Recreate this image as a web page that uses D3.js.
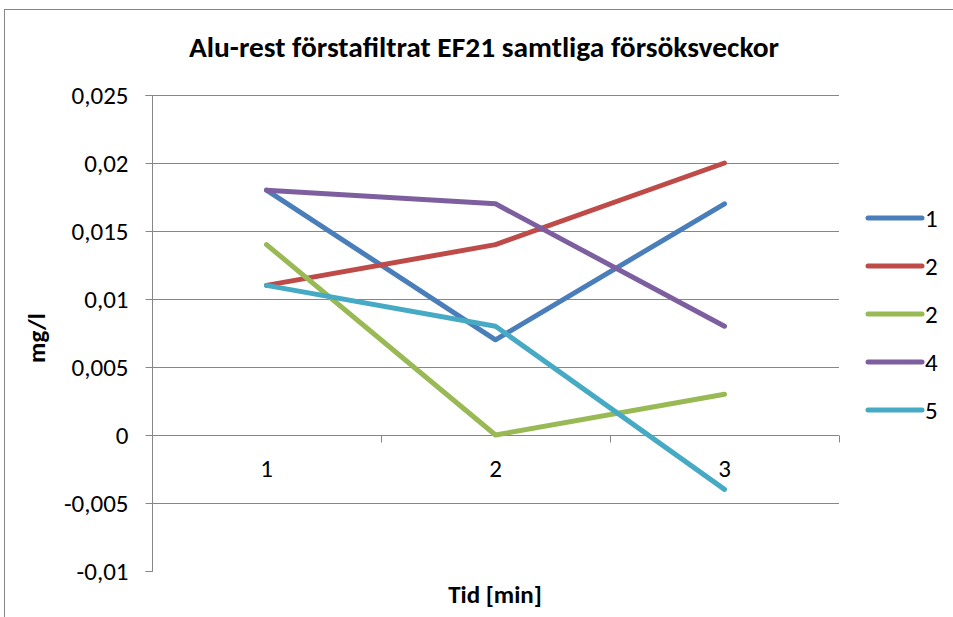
<!DOCTYPE html>
<html><head><meta charset="utf-8">
<script src="https://cdn.jsdelivr.net/npm/d3@7"></script>
<style>body{margin:0;background:#fff}svg{display:block}</style>
</head><body>
<script>
const categories = ["1", "2", "3"];
const seriesNames = ["1", "2", "2", "4", "5"];
const series1 = [0.018, 0.007, 0.017];
const series2 = [0.011, 0.014, 0.020];
const series3 = [0.014, 0.000, 0.003];
const series4 = [0.018, 0.017, 0.008];
const series5 = [0.011, 0.008, -0.004];
const yTicks = [-0.01, -0.005, 0, 0.005, 0.01, 0.015, 0.02, 0.025];
const colors = ["#4A7EBB", "#BE4B48", "#98B954", "#7D5FA0", "#46AAC5"];
const titleText = "Alu-rest förstafiltrat EF21 samtliga försöksveckor";
const xTitle = "Tid [min]";
const yTitle = "mg/l";

(function () {
const allSeries = [series1, series2, series3, series4, series5];
const W = 953, H = 617;
const svg = d3.select("body").append("svg").attr("width", W).attr("height", H);
const font = "Carlito, Calibri, Lato, 'Open Sans', sans-serif";
const fs = 25;

svg.append("rect").attr("x", 4.5).attr("y", 9.5).attr("width", 960).attr("height", 620)
  .attr("fill", "#fff").attr("stroke", "#868686").attr("stroke-width", 1);

const pL = 152, pR = 839, pT = 95, pB = 571;
const x = d3.scaleBand().domain(categories).range([pL, pR]).padding(0);
const y = d3.scaleLinear().domain([-0.01, 0.025]).range([pB, pT]);

// gridlines
svg.append("g").selectAll("line").data(yTicks.filter(d => d !== -0.01 && d !== 0)).join("line")
  .attr("x1", pL).attr("x2", pR)
  .attr("y1", d => Math.round(y(d)) + 0.5).attr("y2", d => Math.round(y(d)) + 0.5)
  .attr("stroke", "#868686").attr("stroke-width", 1);

// y axis
const yAxis = d3.axisLeft(y).tickValues(yTicks).tickSize(7).tickPadding(17)
  .tickFormat(d => String(+d.toFixed(3)).replace(".", ","));
const gy = svg.append("g").attr("transform", `translate(${pL + 0.5},0.5)`).call(yAxis);
gy.select(".domain").attr("stroke", "#868686").attr("d", `M-7,${Math.round(y(-0.01))}H0V${Math.round(y(0.025))}H-7`);
gy.selectAll(".tick line").attr("stroke", "#868686");
gy.selectAll(".tick text").attr("font-family", font).attr("font-size", fs).attr("fill", "#000")
  .attr("dy", "0.33em");
gy.selectAll(".tick").attr("transform", d => `translate(0,${Math.round(y(d))})`);

// x axis at zero
const y0 = Math.round(y(0)) + 0.5;
const gx = svg.append("g");
gx.append("line").attr("x1", pL).attr("x2", pR).attr("y1", y0).attr("y2", y0)
  .attr("stroke", "#868686");
const bounds = categories.map(c => x(c)).concat([pR]);
gx.selectAll("line.t").data(bounds).join("line").attr("class", "t")
  .attr("x1", d => Math.round(d) + 0.5).attr("x2", d => Math.round(d) + 0.5)
  .attr("y1", y0).attr("y2", y0 + 7).attr("stroke", "#868686");
gx.selectAll("text").data(categories).join("text")
  .attr("x", d => x(d) + x.bandwidth() / 2).attr("y", 477)
  .attr("text-anchor", "middle").attr("font-family", font).attr("font-size", fs)
  .text(d => d);

// lines
const line = d3.line().x((d, i) => x(categories[i]) + x.bandwidth() / 2).y(d => y(d));
svg.append("g").selectAll("path").data(allSeries).join("path")
  .attr("d", line).attr("fill", "none")
  .attr("stroke", (d, i) => colors[i]).attr("stroke-width", 5)
  .attr("stroke-linejoin", "round").attr("stroke-linecap", "round");

// legend
const lg = svg.append("g");
seriesNames.forEach((n, i) => {
  const ly = 218 + i * 48;
  lg.append("line").attr("x1", 868).attr("x2", 922).attr("y1", ly).attr("y2", ly)
    .attr("stroke", colors[i]).attr("stroke-width", 5).attr("stroke-linecap", "round");
  lg.append("text").attr("x", 925).attr("y", ly + 8.5).attr("font-family", font)
    .attr("font-size", fs).text(n);
});

// titles
svg.append("text").attr("x", 484).attr("y", 57).attr("text-anchor", "middle")
  .attr("font-family", font).attr("font-weight", "bold").attr("font-size", 29)
  .attr("textLength", 590).attr("lengthAdjust", "spacingAndGlyphs").text(titleText);
svg.append("text").attr("x", 495).attr("y", 603).attr("text-anchor", "middle")
  .attr("font-family", font).attr("font-weight", "bold").attr("font-size", fs)
  .text(xTitle);
svg.append("text").attr("transform", "translate(45,338) rotate(-90)").attr("text-anchor", "middle")
  .attr("font-family", font).attr("font-weight", "bold").attr("font-size", fs)
  .text(yTitle);
})();
</script>
</body></html>
